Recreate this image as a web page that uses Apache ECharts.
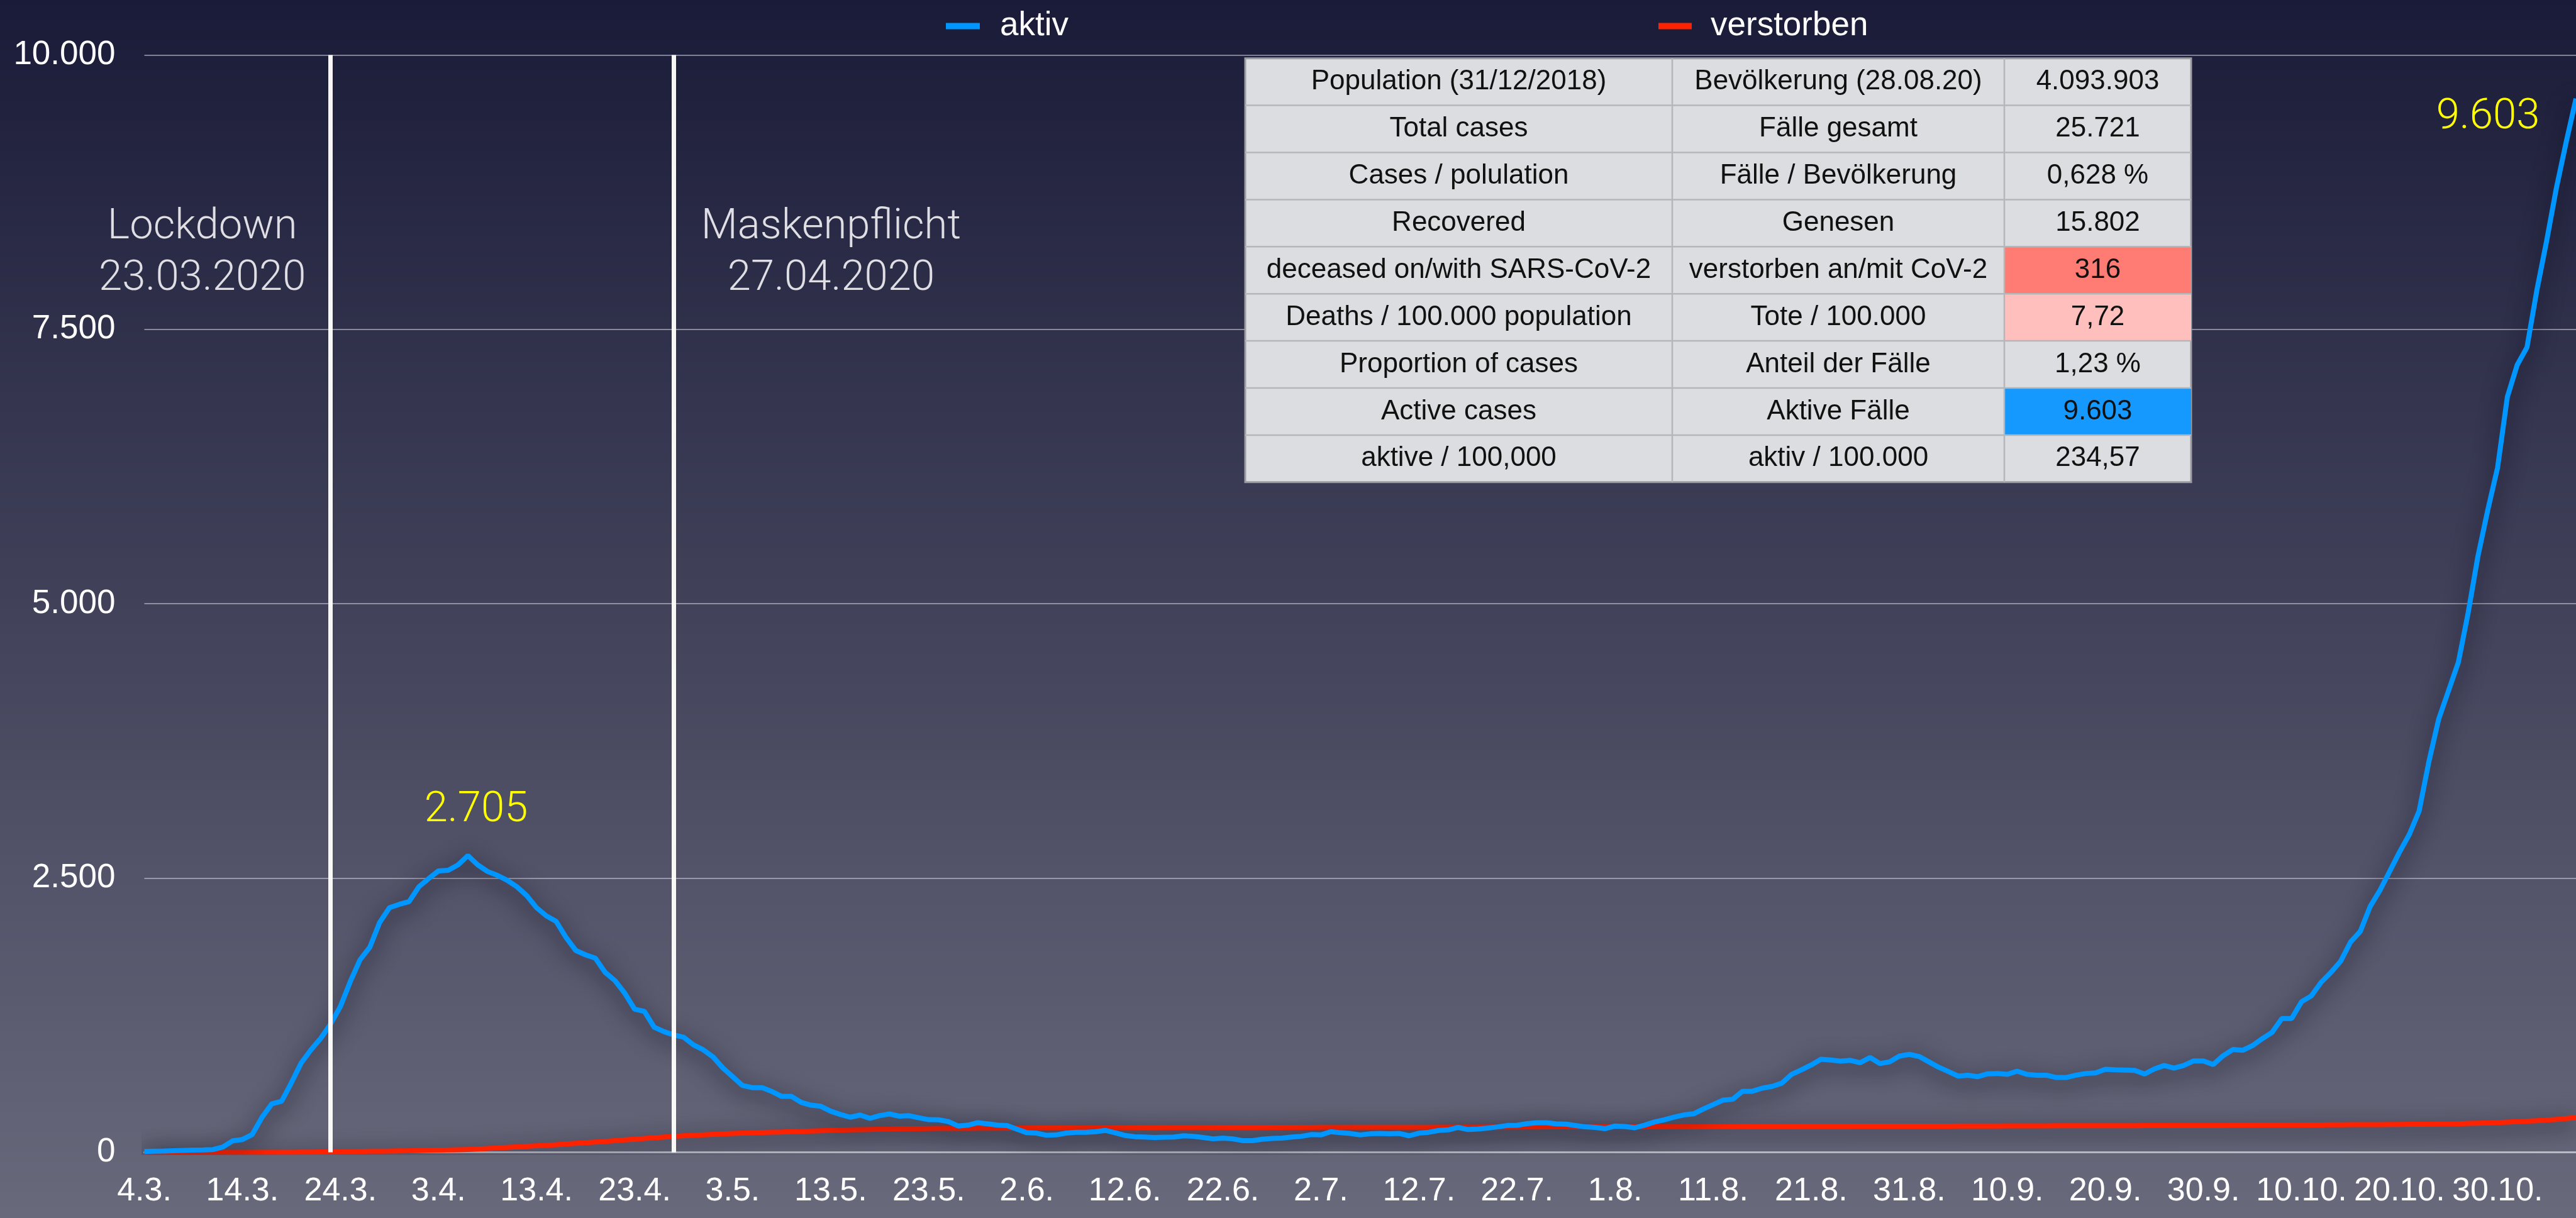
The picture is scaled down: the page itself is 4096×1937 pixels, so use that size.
<!DOCTYPE html>
<html>
<head>
<meta charset="utf-8">
<title>Aktive Fälle und Verstorbene</title>
<script src="https://cdn.jsdelivr.net/npm/echarts@6/dist/echarts.min.js"></script>
<style>
  html, body { margin: 0; padding: 0; overflow: hidden; background: #1a1b38; }
  #chart { width: 4096px; height: 1937px; }
</style>
</head>
<body>
<div id="chart"></div>
<script>
// Daily categories, 4 March 2020 onward
const firstDay = { year: 2020, month: 3, day: 4 };
const dayCount = 249;
const categories = [];
for (let i = 0; i < dayCount; i++) {
  const d = new Date(firstDay.year, firstDay.month - 1, firstDay.day + i);
  categories.push(d.getDate() + '.' + (d.getMonth() + 1) + '.');
}

// Active cases per day
const aktiv = [
  8, 10, 12, 15, 18, 20, 22, 25, 49, 105,
  117, 162, 319, 442, 465, 635, 815, 935, 1040, 1170,
  1330, 1555, 1755, 1870, 2095, 2230, 2260, 2285, 2420, 2495,
  2565, 2570, 2620, 2705, 2620, 2560, 2525, 2480, 2420, 2340,
  2230, 2155, 2105, 1960, 1840, 1800, 1770, 1640, 1565, 1450,
  1305, 1285, 1140, 1100, 1070, 1050, 980, 935, 870, 770,
  690, 610, 590, 590, 555, 510, 510, 455, 430, 420,
  375, 345, 320, 340, 310, 335, 350, 330, 334, 315,
  298, 297, 281, 240, 248, 270, 260, 248, 244, 211,
  179, 175, 156, 159, 175, 182, 182, 188, 200, 179,
  154, 143, 140, 135, 138, 140, 151, 146, 135, 123,
  130, 123, 107, 107, 119, 127, 130, 140, 146, 162,
  159, 188, 179, 172, 159, 169, 172, 169, 172, 151,
  175, 183, 200, 205, 227, 208, 213, 221, 232, 245,
  247, 261, 270, 270, 260, 257, 244, 232, 227, 216,
  240, 235, 224, 248, 276, 297, 321, 341, 351, 395,
  435, 476, 484, 557, 557, 585, 601, 630, 711, 752,
  796, 849, 841, 831, 838, 817, 865, 809, 825, 877,
  893, 874, 825, 776, 736, 695, 703, 690, 716, 719,
  711, 740, 711, 703, 703, 682, 682, 703, 719, 724,
  757, 752, 750, 747, 714, 760, 792, 768, 792, 833,
  833, 800, 880, 937, 930, 972, 1036, 1093, 1220, 1220,
  1372, 1425, 1549, 1639, 1742, 1916, 2013, 2239, 2387, 2561,
  2736, 2897, 3110, 3562, 3949, 4207, 4465, 4916, 5433, 5852,
  6239, 6884, 7175, 7336, 7852, 8304, 8788, 9207, 9603
];

// Deceased, cumulative
const verstorben = [
  0, 0, 0, 0, 0, 0, 0, 0, 0, 0,
  0, 0, 0, 0, 1, 1, 2, 2, 3, 4,
  6, 7, 8, 10, 11, 12, 14, 15, 17, 19,
  21, 22, 24, 26, 30, 35, 40, 45, 50, 55,
  60, 65, 70, 76, 82, 88, 94, 100, 107, 114,
  120, 126, 133, 140, 146, 151, 156, 160, 164, 168,
  172, 175, 178, 181, 184, 186, 189, 191, 194, 197,
  200, 203, 205, 207, 209, 211, 212, 214, 215, 216,
  217, 218, 218, 219, 219, 220, 220, 220, 221, 221,
  221, 222, 222, 222, 222, 223, 223, 223, 223, 224,
  224, 224, 224, 224, 225, 225, 225, 225, 225, 226,
  226, 226, 226, 226, 226, 227, 227, 227, 227, 227,
  228, 228, 228, 228, 228, 228, 229, 229, 229, 229,
  229, 229, 230, 230, 230, 230, 230, 231, 231, 231,
  231, 231, 231, 232, 232, 232, 232, 232, 233, 233,
  233, 233, 233, 233, 234, 234, 234, 234, 234, 235,
  235, 235, 235, 235, 236, 236, 236, 236, 236, 237,
  237, 237, 237, 237, 237, 238, 238, 238, 238, 238,
  239, 239, 239, 239, 239, 240, 240, 240, 240, 240,
  241, 241, 241, 241, 241, 242, 242, 242, 242, 242,
  243, 243, 243, 243, 244, 244, 244, 245, 245, 245,
  246, 246, 246, 247, 247, 247, 248, 248, 248, 249,
  249, 250, 250, 251, 251, 252, 252, 253, 253, 254,
  254, 255, 256, 257, 258, 259, 260, 264, 266, 268,
  272, 276, 280, 284, 288, 294, 300, 308, 316
];

// Value axis ticks
const yMin = 0;
const yMax = 10000;
const yStep = 2500;

// Measures marked with vertical lines
const eventDays = ['23.3.', '27.4.'];
const eventTitles = ['Lockdown', 'Maskenpflicht'];
const eventDates = ['23.03.2020', '27.04.2020'];

// Summary table
const tableEnglish = ['Population (31/12/2018)', 'Total cases', 'Cases / polulation', 'Recovered',
  'deceased on/with SARS-CoV-2', 'Deaths / 100.000 population', 'Proportion of cases', 'Active cases', 'aktive / 100,000'];
const tableGerman = ['Bevölkerung (28.08.20)', 'Fälle gesamt', 'Fälle / Bevölkerung', 'Genesen',
  'verstorben an/mit CoV-2', 'Tote / 100.000', 'Anteil der Fälle', 'Aktive Fälle', 'aktiv / 100.000'];
const tableValues = ['4.093.903', '25.721', '0,628 %', '15.802', '316', '7,72', '1,23 %', '9.603', '234,57'];
const tableHighlight = [null, null, null, null, '#ff7c74', '#ffbfbd', null, '#1599ff', null];

const BLUE = '#0096ff';
const RED = '#ff2200';
const BASE_FONT = '"Liberation Sans", Arial, sans-serif';
const LIGHT_FONT = 'Roboto, "Liberation Sans", sans-serif';

const deFormat = v => String(Math.round(v)).replace(/\B(?=(\d{3})+(?!\d))/g, '.');

// Index of the spring maximum and of the last day
let springPeak = 0;
for (let i = 0; i < 100; i++) if (aktiv[i] > aktiv[springPeak]) springPeak = i;
const lastIdx = aktiv.length - 1;

const chart = echarts.init(document.getElementById('chart'), null, { renderer: 'canvas' });

const lineShadow = { shadowColor: 'rgba(14,14,32,0.85)', shadowBlur: 34, shadowOffsetY: 8 };

const option = {
  animation: false,
  backgroundColor: new echarts.graphic.LinearGradient(0, 0, 0, 1, [
    { offset: 0, color: '#1a1b38' },
    { offset: 1, color: '#69697c' }
  ]),
  textStyle: { fontFamily: BASE_FONT },
  legend: [
    {
      data: ['aktiv'], left: 1499, top: 10, icon: 'rect', itemWidth: 54, itemHeight: 10,
      textStyle: { color: '#ffffff', fontSize: 53, fontFamily: BASE_FONT, padding: [0, 0, 0, 27] }
    },
    {
      data: ['verstorben'], left: 2632, top: 10, icon: 'rect', itemWidth: 53, itemHeight: 10,
      textStyle: { color: '#ffffff', fontSize: 53, fontFamily: BASE_FONT, padding: [0, 0, 0, 25] }
    }
  ],
  grid: { left: 229.5, right: 0, top: 87.5, bottom: 104.4, containLabel: false },
  xAxis: {
    type: 'category',
    data: categories,
    boundaryGap: false,
    axisLine: { lineStyle: { color: '#bcbcc4', width: 3 } },
    axisTick: { show: false },
    axisLabel: { interval: 9, color: '#ffffff', fontSize: 52, margin: 36, fontFamily: BASE_FONT },
    splitLine: { show: false }
  },
  yAxis: {
    type: 'value',
    min: yMin, max: yMax, interval: yStep,
    axisLine: { show: false },
    axisTick: { show: false },
    axisLabel: { color: '#ffffff', fontSize: 53, margin: 46, fontFamily: BASE_FONT, formatter: deFormat },
    splitLine: { lineStyle: { color: 'rgba(210,210,222,0.55)', width: 2 } }
  },
  series: [
    {
      name: 'verstorben', type: 'line', data: verstorben, symbol: 'none', z: 2,
      itemStyle: { color: RED },
      lineStyle: Object.assign({ color: RED, width: 8 }, lineShadow)
    },
    {
      name: 'aktiv', type: 'line', data: aktiv, symbol: 'none', z: 3,
      itemStyle: { color: BLUE },
      lineStyle: Object.assign({ color: BLUE, width: 8 }, lineShadow),
      markLine: {
        silent: true,
        symbol: ['none', 'none'],
        label: { show: false },
        lineStyle: { color: '#ffffff', width: 7, type: 'solid', opacity: 0.96, shadowBlur: 0 },
        data: eventDays.map(d => ({ xAxis: d }))
      },
      markPoint: {
        silent: true,
        symbol: 'circle',
        symbolSize: 1,
        itemStyle: { color: 'rgba(0,0,0,0)' },
        label: {
          show: true, position: 'inside', color: '#ffff00', fontSize: 67,
          fontFamily: LIGHT_FONT, fontWeight: 300,
          formatter: p => deFormat(p.value)
        },
        data: [
          { coord: [categories[springPeak], aktiv[springPeak]], value: aktiv[springPeak], label: { offset: [13, -71] } },
          { coord: [categories[lastIdx], aktiv[lastIdx]], value: aktiv[lastIdx], label: { offset: [-140, 30] } }
        ]
      }
    }
  ]
};

chart.setOption(option);

// Annotations beside the event lines and the summary table
const graphics = [];
const eventSide = [-204, 250];
eventDays.forEach((d, k) => {
  const x = chart.convertToPixel({ xAxisIndex: 0 }, d) + eventSide[k];
  [eventTitles[k], eventDates[k]].forEach((t, r) => {
    graphics.push({
      type: 'text', x: x, y: 362 + r * 82, z: 20, silent: true,
      style: {
        text: t, fill: '#dedee4', font: '300 67px ' + LIGHT_FONT,
        textAlign: 'center', textVerticalAlign: 'middle'
      }
    });
  });
});

const tLeft = 1980, tTop = 92.7, rowH = 74.9;
const colW = [679, 528, 297];
const colX = [tLeft, tLeft + colW[0], tLeft + colW[0] + colW[1]];
const tWidth = colW[0] + colW[1] + colW[2];
const tHeight = rowH * tableValues.length;
graphics.push({
  type: 'rect', z: 30, silent: true,
  shape: { x: tLeft, y: tTop, width: tWidth, height: tHeight },
  style: { fill: '#dcdde0', stroke: '#9c9ca3', lineWidth: 3 }
});
tableValues.forEach((v, r) => {
  const y = tTop + r * rowH;
  if (tableHighlight[r]) {
    graphics.push({
      type: 'rect', z: 31, silent: true,
      shape: { x: colX[2], y: y, width: colW[2], height: rowH },
      style: { fill: tableHighlight[r] }
    });
  }
  const cells = [tableEnglish[r], tableGerman[r], v];
  cells.forEach((t, c) => {
    graphics.push({
      type: 'text', z: 33, silent: true,
      x: colX[c] + colW[c] / 2, y: y + rowH / 2,
      style: { text: t, fill: '#111111', font: '44px ' + BASE_FONT, textAlign: 'center', textVerticalAlign: 'middle' }
    });
  });
});
// cell borders
for (let r = 1; r < tableValues.length; r++) {
  graphics.push({
    type: 'line', z: 32, silent: true,
    shape: { x1: tLeft, y1: tTop + r * rowH, x2: tLeft + tWidth, y2: tTop + r * rowH },
    style: { stroke: '#b5b6ba', lineWidth: 2.5 }
  });
}
[colX[1], colX[2]].forEach(x => {
  graphics.push({
    type: 'line', z: 32, silent: true,
    shape: { x1: x, y1: tTop, x2: x, y2: tTop + tHeight },
    style: { stroke: '#b5b6ba', lineWidth: 2.5 }
  });
});

chart.setOption({ graphic: graphics });
</script>
</body>
</html>
